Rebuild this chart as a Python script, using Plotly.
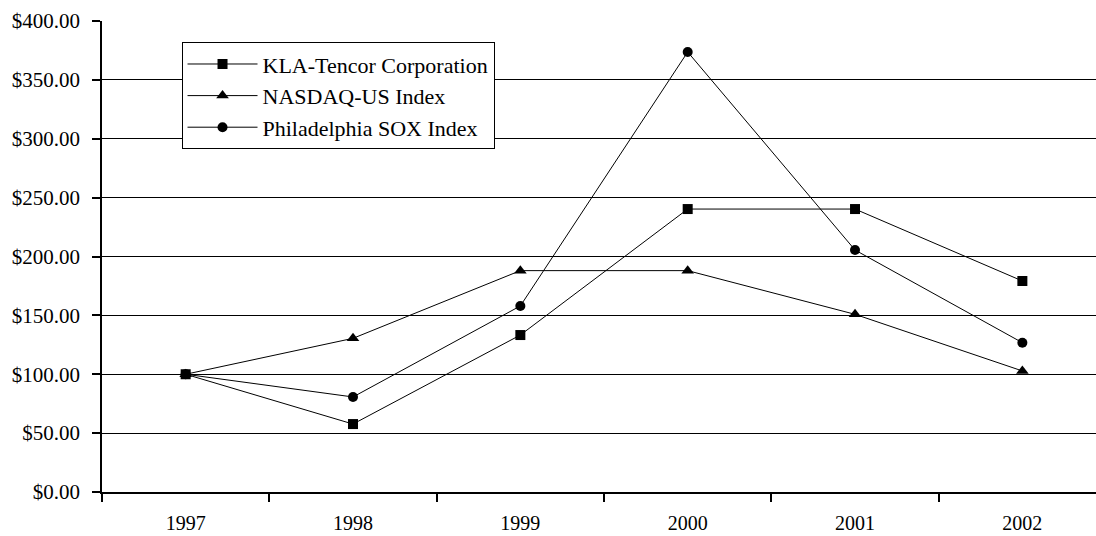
import plotly.graph_objects as go

years = ["1997", "1998", "1999", "2000", "2001", "2002"]
kla = [100.0, 57.7, 133.3, 240.3, 240.3, 179.2]
nasdaq = [100.0, 130.5, 188.0, 188.0, 150.9, 102.8]
sox = [100.0, 80.7, 158.0, 373.7, 205.5, 126.8]

y_ticks = [0, 50, 100, 150, 200, 250, 300, 350, 400]
y_labels = ["$%.2f" % v for v in y_ticks]

xpos = list(range(len(years)))

fig = go.Figure()
series = [
    ("KLA-Tencor Corporation", kla, "square", 10),
    ("NASDAQ-US Index", nasdaq, "triangle-up", 11),
    ("Philadelphia SOX Index", sox, "circle", 10),
]
for name, vals, sym, sz in series:
    fig.add_trace(go.Scatter(
        x=xpos, y=vals, name=name, mode="lines+markers",
        line=dict(color="black", width=1),
        marker=dict(symbol=sym, size=sz, color="black"),
    ))

FAM = "Liberation Serif, Times New Roman, serif"
font = dict(family=FAM, size=21, color="black")

fig.update_layout(
    width=1096, height=536,
    margin=dict(l=102, r=0, t=21, b=44),
    paper_bgcolor="white", plot_bgcolor="white",
    font=font,
    showlegend=True,
    legend=dict(
        x=0.08, y=0.955, xanchor="left", yanchor="top",
        bgcolor="white", bordercolor="black", borderwidth=1,
        font=dict(family=FAM, size=22, color="black"),
        tracegroupgap=0, itemwidth=70,
        entrywidth=265, entrywidthmode="pixels",
    ),
    xaxis=dict(
        range=[-0.5, 5.44],
        tickvals=xpos, ticktext=years, ticks="",
        ticklabelstandoff=12,
        showgrid=False, zeroline=False, automargin=False,
        showline=True, linecolor="black", linewidth=1.5,
        minor=dict(tick0=0.5, dtick=1, ticks="outside", ticklen=8, tickcolor="black", tickwidth=1.5, showgrid=False),
        tickfont=dict(family=FAM, size=20, color="black"),
    ),
    yaxis=dict(
        range=[0, 400],
        tickvals=y_ticks, ticktext=y_labels,
        ticks="outside", ticklen=8, tickcolor="black", tickwidth=1.5,
        ticklabelstandoff=8, automargin=False,
        showgrid=True, gridcolor="black", gridwidth=1,
        zeroline=False,
        showline=True, linecolor="black", linewidth=1.5,
        tickfont=font,
    ),
)

fig.write_html("out.html", config={"displayModeBar": False},
               post_script="document.body.style.margin='0px';document.body.style.overflow='hidden';")
